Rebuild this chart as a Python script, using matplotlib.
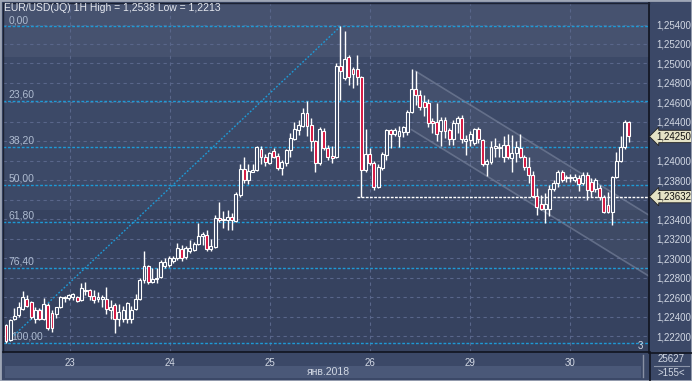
import numpy as np
import matplotlib.pyplot as plt
from matplotlib.patches import Rectangle
from matplotlib.lines import Line2D
import matplotlib.transforms as mtransforms

# hourly EUR/USD candles
opens = [1.2231, 1.2216, 1.2237, 1.2242, 1.2248, 1.2258, 1.2255, 1.2237, 1.2247, 1.2238,
         1.2252, 1.2244, 1.2243, 1.2250, 1.2259, 1.2259, 1.2260, 1.2260, 1.2257, 1.2266,
         1.2267, 1.2261, 1.2258, 1.2258, 1.2258, 1.2247, 1.2252, 1.2238, 1.2238, 1.2237,
         1.2237, 1.2248, 1.2258, 1.2278, 1.2292, 1.2276, 1.2279, 1.2281, 1.2292, 1.2293,
         1.2297, 1.2300, 1.2309, 1.2301, 1.2307, 1.2308, 1.2315, 1.2323, 1.2324, 1.2309,
         1.2311, 1.2341, 1.2339, 1.2339, 1.2342, 1.2338, 1.2365, 1.2392, 1.2380, 1.2389,
         1.2391, 1.2412, 1.2404, 1.2398, 1.2410, 1.2405, 1.2393, 1.2398, 1.2411, 1.2422,
         1.2432, 1.2436, 1.2449, 1.2437, 1.2420, 1.2398, 1.2431, 1.2413, 1.2405, 1.2404,
         1.2497, 1.2485, 1.2507, 1.2494, 1.2494, 1.2486, 1.2391, 1.2407, 1.2398, 1.2373,
         1.2393, 1.2406, 1.2432, 1.2428, 1.2425, 1.2430, 1.2430, 1.2450, 1.2474, 1.2468,
         1.2460, 1.2459, 1.2441, 1.2440, 1.2431, 1.2442, 1.2432, 1.2422, 1.2439, 1.2444,
         1.2420, 1.2421, 1.2418, 1.2433, 1.2421, 1.2397, 1.2399, 1.2413, 1.2413, 1.2404,
         1.2416, 1.2403, 1.2408, 1.2413, 1.2404, 1.2394, 1.2385, 1.2364, 1.2356, 1.2351,
         1.2351, 1.2371, 1.2377, 1.2389, 1.2382, 1.2382, 1.2380, 1.2382, 1.2377, 1.2385,
         1.2378, 1.2371, 1.2372, 1.2363, 1.2355, 1.2347, 1.2383, 1.2400, 1.2414, 1.2440]
highs = [1.2232, 1.2237, 1.2249, 1.2255, 1.2266, 1.2262, 1.2256, 1.2250, 1.2249, 1.2259,
         1.2254, 1.2247, 1.2250, 1.2261, 1.2261, 1.2263, 1.2264, 1.2261, 1.2274, 1.2276,
         1.2268, 1.2267, 1.2265, 1.2262, 1.2270, 1.2257, 1.2254, 1.2253, 1.2251, 1.2255,
         1.2251, 1.2263, 1.2280, 1.2307, 1.2293, 1.2290, 1.2290, 1.2298, 1.2300, 1.2302,
         1.2302, 1.2316, 1.2313, 1.2312, 1.2319, 1.2317, 1.2336, 1.2327, 1.2329, 1.2320,
         1.2344, 1.2358, 1.2348, 1.2349, 1.2346, 1.2368, 1.2397, 1.2404, 1.2397, 1.2397,
         1.2415, 1.2415, 1.2407, 1.2409, 1.2413, 1.2408, 1.2401, 1.2412, 1.2429, 1.2440,
         1.2442, 1.2454, 1.2461, 1.2444, 1.2421, 1.2435, 1.2434, 1.2416, 1.2415, 1.2500,
         1.2538, 1.2533, 1.2509, 1.2496, 1.2509, 1.2487, 1.2433, 1.2413, 1.2400, 1.2397,
         1.2409, 1.2433, 1.2433, 1.2434, 1.2436, 1.2436, 1.2452, 1.2494, 1.2492, 1.2473,
         1.2468, 1.2463, 1.2444, 1.2459, 1.2445, 1.2445, 1.2434, 1.2442, 1.2446, 1.2447,
         1.2427, 1.2431, 1.2434, 1.2435, 1.2422, 1.2402, 1.2420, 1.2423, 1.2418, 1.2425,
         1.2428, 1.2427, 1.2420, 1.2428, 1.2406, 1.2404, 1.2390, 1.2372, 1.2365, 1.2367,
         1.2375, 1.2380, 1.2391, 1.2391, 1.2385, 1.2386, 1.2386, 1.2385, 1.2388, 1.2388,
         1.2382, 1.2382, 1.2375, 1.2365, 1.2368, 1.2384, 1.2409, 1.2425, 1.2442, 1.2441]
lows = [1.2213, 1.2215, 1.2236, 1.2240, 1.2247, 1.2250, 1.2238, 1.2233, 1.2236, 1.2236,
        1.2226, 1.2224, 1.2239, 1.2249, 1.2255, 1.2257, 1.2257, 1.2255, 1.2256, 1.2262,
        1.2257, 1.2254, 1.2255, 1.2250, 1.2243, 1.2238, 1.2223, 1.2230, 1.2234, 1.2233,
        1.2233, 1.2247, 1.2257, 1.2274, 1.2273, 1.2274, 1.2274, 1.2280, 1.2290, 1.2291,
        1.2295, 1.2298, 1.2297, 1.2299, 1.2305, 1.2307, 1.2313, 1.2314, 1.2307, 1.2307,
        1.2310, 1.2337, 1.2331, 1.2329, 1.2329, 1.2337, 1.2363, 1.2377, 1.2376, 1.2388,
        1.2390, 1.2397, 1.2395, 1.2397, 1.2403, 1.2391, 1.2385, 1.2395, 1.2404, 1.2421,
        1.2427, 1.2435, 1.2425, 1.2410, 1.2389, 1.2396, 1.2411, 1.2401, 1.2398, 1.2403,
        1.2462, 1.2483, 1.2478, 1.2475, 1.2478, 1.23632, 1.2388, 1.2396, 1.2370, 1.2372,
        1.2391, 1.2401, 1.2413, 1.2425, 1.2414, 1.2424, 1.2426, 1.2449, 1.2457, 1.2452,
        1.2446, 1.2435, 1.2429, 1.2420, 1.2415, 1.2423, 1.2416, 1.2416, 1.2429, 1.2418,
        1.2406, 1.2415, 1.2416, 1.2418, 1.2395, 1.2384, 1.2397, 1.2404, 1.2404, 1.2399,
        1.2402, 1.2389, 1.2399, 1.2403, 1.2391, 1.2377, 1.2363, 1.2344, 1.2349, 1.2336,
        1.2343, 1.2369, 1.2373, 1.2378, 1.2378, 1.2378, 1.2378, 1.2369, 1.2375, 1.2360,
        1.2363, 1.2368, 1.2360, 1.2346, 1.2346, 1.2334, 1.2382, 1.2399, 1.2412, 1.2419]
closes = [1.2215, 1.2236, 1.2241, 1.2250, 1.2260, 1.2251, 1.2240, 1.2247, 1.2238, 1.2253,
          1.2228, 1.2228, 1.2250, 1.2260, 1.2260, 1.2262, 1.2263, 1.2256, 1.2269, 1.2267,
          1.2261, 1.2257, 1.2260, 1.2260, 1.2248, 1.2250, 1.2238, 1.2245, 1.2247, 1.2254,
          1.2247, 1.2258, 1.2278, 1.2292, 1.2276, 1.2279, 1.2280, 1.2296, 1.2296, 1.2300,
          1.2300, 1.2310, 1.2300, 1.2310, 1.2310, 1.2315, 1.2323, 1.2325, 1.2309, 1.2312,
          1.2341, 1.2339, 1.2340, 1.2342, 1.2339, 1.2366, 1.2392, 1.2380, 1.2390, 1.2391,
          1.2414, 1.2404, 1.2399, 1.2408, 1.2404, 1.2393, 1.2399, 1.2411, 1.2423, 1.2433,
          1.2437, 1.2449, 1.2436, 1.2420, 1.2398, 1.2433, 1.2413, 1.2404, 1.2403, 1.2497,
          1.2492, 1.2505, 1.2486, 1.2489, 1.2486, 1.2391, 1.2407, 1.2398, 1.2373, 1.2394,
          1.2407, 1.2432, 1.2428, 1.2432, 1.2431, 1.2435, 1.2450, 1.2474, 1.2468, 1.2455,
          1.2455, 1.2439, 1.2439, 1.2428, 1.2442, 1.2431, 1.2422, 1.2439, 1.2444, 1.2422,
          1.2422, 1.2428, 1.2433, 1.2422, 1.2397, 1.2400, 1.2414, 1.2415, 1.2414, 1.2416,
          1.2404, 1.2408, 1.2414, 1.2404, 1.2394, 1.2385, 1.2364, 1.2353, 1.2351, 1.2356,
          1.2371, 1.2377, 1.2389, 1.2380, 1.2383, 1.2383, 1.2383, 1.2376, 1.2385, 1.2370,
          1.2369, 1.2380, 1.2363, 1.2347, 1.2347, 1.2383, 1.2400, 1.2414, 1.2440, 1.2425]

day_pos = [15.3, 39.2, 63.2, 87.1, 111.0, 134.9]
day_labels = ['23', '24', '25', '26', '29', '30']

fib_high = 1.2538
fib_low = 1.2213
fib_pct = [0.0, 23.6, 38.2, 50.0, 61.8, 76.4, 100.0]
fib_start, fib_end = 0, 80

last_price = 1.24250
line_price = 1.23632

# channel drawn on the chart (start index, start price), slope per bar
chan_up = (98, 1.2492)
chan_lo = (97, 1.2432)
chan_slope = -0.000265

W, H = 692, 381
plt.rcParams['font.family'] = ['Liberation Sans', 'DejaVu Sans']
txt = '#d2d8e4'

fig = plt.figure(figsize=(W / 100, H / 100), dpi=100)
fig.patch.set_facecolor('#3b4867')
ax = fig.add_axes([3 / W, 1 - 352 / H, 646 / W, 349 / H])
ax.set_facecolor('#3c4967')

x_max = 153.8
ax.set_xlim(-0.72, x_max)
ax.set_ylim(1.22036, 1.25621)

# background bands
ax.add_patch(Rectangle((0, 0.845), 1, 0.155, transform=ax.transAxes, fc='#46526f', ec='none', zorder=0.1))
ax.add_patch(Rectangle((0, 0), 1, 0.407, transform=ax.transAxes, fc='#36425f', ec='none', zorder=0.1))

yt = np.arange(1.222, 1.2541, 0.002)
ylab = []
for v in yt:
    # labels under the price markers are hidden on the original
    if abs(v - 1.242) < 1e-6 or abs(v - 1.236) < 1e-6:
        ylab.append('')
    else:
        ylab.append(('%.5f' % v).replace('.', ','))
ax.set_yticks(yt)
ax.set_yticklabels(ylab)
ax.yaxis.tick_right()
ax.set_xticks(day_pos)
ax.set_xticklabels(day_labels)
ax.tick_params(axis='both', length=0, labelcolor=txt, labelsize=7)
ax.tick_params(axis='y', pad=5)
ax.tick_params(axis='x', pad=4)
ax.set_axisbelow(True)
ax.grid(True, color='#59668a', linestyle=(0, (3, 3)), lw=0.8)

for s in ['right', 'bottom']:
    ax.spines[s].set_color('#10141f')
    ax.spines[s].set_linewidth(1.2)
for s in ['left', 'top']:
    ax.spines[s].set_color('#1c2233')
    ax.spines[s].set_linewidth(1)

# fibonacci levels
fib_col = '#1e9ad6'
for p in fib_pct:
    lvl = fib_high - p / 100 * (fib_high - fib_low)
    ax.axhline(lvl, color=fib_col, lw=1, ls=(0, (2, 1.3)), zorder=1)
    ax.annotate(('%.2f' % p).replace('.', ','), xy=(0.008 if p < 100 else 0.012, lvl),
                xycoords=mtransforms.blended_transform_factory(ax.transAxes, ax.transData),
                xytext=(0, 1), textcoords='offset points', ha='left', va='bottom',
                color='#aebbd0', fontsize=7.5, zorder=5)
ax.plot([fib_start, fib_end], [fib_low, fib_high], color=fib_col, lw=1, ls=(0, (1.3, 1.3)), zorder=1)

# channel
ux = [chan_up[0], x_max]
uy = [chan_up[1], chan_up[1] + chan_slope * (x_max - chan_up[0])]
lx = [chan_lo[0], x_max]
ly = [chan_lo[1], chan_lo[1] + chan_slope * (x_max - chan_lo[0])]
ax.fill(ux + lx[::-1], uy + ly[::-1], color='white', alpha=0.045, lw=0, zorder=1)
ax.plot(ux, uy, color='#7c87a0', lw=1.2, alpha=0.6, zorder=1.5)
ax.plot(lx, ly, color='#7c87a0', lw=1.2, alpha=0.6, zorder=1.5)

ax.hlines(line_price, 84, x_max, colors='white', linestyles=(0, (2, 1)), lw=1, zorder=2)

# candles
xs = np.arange(len(opens))
o = np.array(opens)
c = np.array(closes)
ax.vlines(xs, lows, highs, color='white', lw=1, zorder=3)
bottoms = np.minimum(o, c)
heights = np.maximum(np.abs(c - o), 0.00003)
fills = ['#d4103c' if cc < oo else '#3a4766' for oo, cc in zip(o, c)]
ax.bar(xs, heights, bottom=bottoms, width=0.7, color=fills, edgecolor='white', linewidth=0.8, zorder=4)

# price markers on the scale
bt = mtransforms.blended_transform_factory(ax.transAxes, ax.transData)
for p in [last_price, line_price]:
    ax.annotate(('%.5f' % p).replace('.', ','), xy=(1.0, p), xycoords=bt,
                xytext=(5, 0), textcoords='offset points', ha='left', va='center',
                fontsize=7, color='#111111', annotation_clip=False, zorder=10,
                bbox=dict(boxstyle='larrow,pad=0.12', fc='#e4e2c6', ec='#222222', lw=0.6))

fig.text(4 / W, 1 - 8 / H, 'EUR/USD(JQ) 1H High = 1,2538 Low = 1,2213', color='#e6e9f0',
         fontsize=7.5, ha='left', va='center')
fig.text(640 / W, 1 - 346 / H, '3', color=txt, fontsize=7, ha='center', va='center')

# bottom strip and counters
fig.add_artist(Rectangle((5 / W, 1 - 378 / H), 636 / W, 12.5 / H, transform=fig.transFigure,
                         fc='#4a5878', ec='none'))
fig.text(328 / W, 1 - 372 / H, 'янв.2018', color=txt, fontsize=7.5, ha='center', va='center')
fig.add_artist(Line2D([643 / W, 643 / W], [1 - 355 / H, 1 - 377 / H], color='#8890a4', lw=1))
fig.add_artist(Line2D([649 / W, 692 / W], [1 - 352.5 / H, 1 - 352.5 / H], color='#10141f', lw=1.2))
fig.add_artist(Line2D([649.5 / W, 649.5 / W], [1 - 352 / H, 0], color='#10141f', lw=1.2))
fig.text(671 / W, 1 - 359 / H, '25627', color=txt, fontsize=7, ha='center', va='center')
fig.add_artist(Line2D([654 / W, 689 / W], [1 - 366 / H, 1 - 366 / H], color='#8a93a8', lw=0.8))
fig.text(671 / W, 1 - 373 / H, '>155<', color=txt, fontsize=7, ha='center', va='center')

fig.add_artist(Rectangle((0, 0), 1, 1, transform=fig.transFigure, fill=False, ec='#9ea6b6', lw=2))

fig.savefig('out.png', dpi=100, facecolor=fig.get_facecolor())
